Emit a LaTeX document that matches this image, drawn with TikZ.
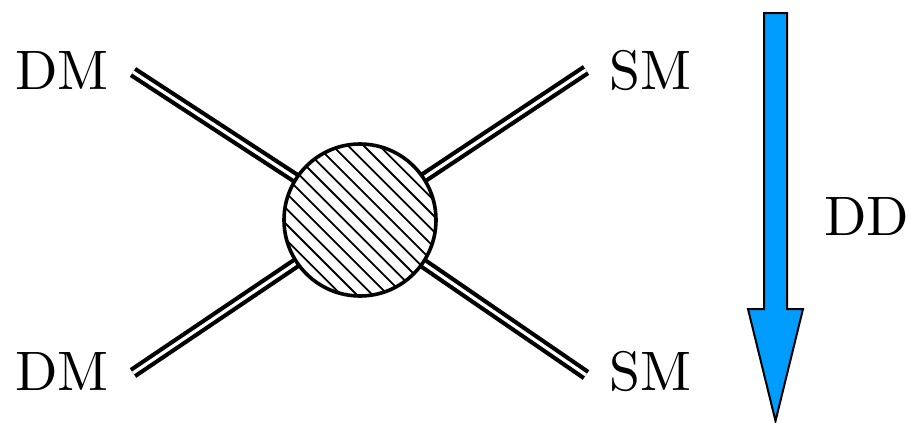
\documentclass[tikz,border=0pt]{standalone}
\usepackage{tikz}
\definecolor{arrowblue}{RGB}{0,157,255}
\newcommand{\bigtxt}[1]{\scalebox{2.78}{#1}}
\begin{document}
\begin{tikzpicture}[x=0.5pt,y=-0.5pt,
  lbl/.style={font=\normalsize, inner sep=0pt},
  leg/.style={draw=black, line width=2.1pt, double=white, double distance=1.6pt},
  hatch/.style={line width=0.9pt},
  blob/.style={circle, draw=black, line width=1.8pt, fill=white, minimum size=76pt, inner sep=0pt,
    path picture={\foreach \k in {-7,...,7} {\draw[hatch] ([shift={(\k*3.9pt,\k*3.9pt)}]path picture bounding box.center) ++(-50pt,50pt) -- ++(100pt,-100pt);}}}]
\useasboundingbox (0,0) rectangle (921,423);
\coordinate (o) at (360,220);
\coordinate (a1) at (133,72);
\coordinate (a2) at (133,373);
\coordinate (b1) at (586,70);
\coordinate (b2) at (586,375);
\draw[leg] (a1) -- (o);
\draw[leg] (a2) -- (o);
\draw[leg] (b1) -- (o);
\draw[leg] (b2) -- (o);
\node[blob] (c) at (o) {};
\node[lbl, anchor=east] (dm1) at (109,71) {\bigtxt{DM}};
\node[lbl, anchor=east] (dm2) at (109,372) {\bigtxt{DM}};
\node[lbl, anchor=west] (sm1) at (609,71) {\bigtxt{SM}};
\node[lbl, anchor=west] (sm2) at (609,372) {\bigtxt{SM}};
\node[lbl, anchor=west] (dd) at (824,217) {\bigtxt{DD}};
\draw[fill=arrowblue, line width=1pt, line join=miter]
  (764,13) -- (787,13) -- (787,309) -- (803,309) -- (775.5,421) -- (748,309) -- (764,309) -- cycle;
\end{tikzpicture}
\end{document}
